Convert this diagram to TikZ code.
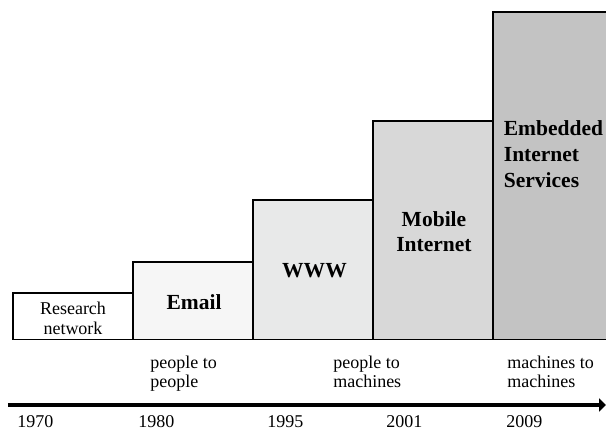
\documentclass[tikz,border=0pt]{standalone}
\usepackage{fontspec}
\setmainfont{Liberation Serif}
\usepackage{tikz}
\usetikzlibrary{arrows.meta,calc,positioning}
\definecolor{emailgray}{HTML}{F6F6F6}
\definecolor{wwwgray}{HTML}{E8E9E9}
\definecolor{mobilegray}{HTML}{D8D8D8}
\definecolor{embedgray}{HTML}{C3C3C3}
\tikzset{
  stagebox/.style={draw=black,line width=0.8pt},
  stagename/.style={anchor=base,align=center,font=\fontsize{15.3}{17.8}\selectfont\bfseries},
  eralabel/.style={anchor=base west,align=left,inner sep=0pt,font=\fontsize{12.8}{14.2}\selectfont},
  yearlabel/.style={anchor=base west,inner sep=0pt,font=\fontsize{12.8}{14.2}\selectfont},
}

\begin{document}
\begin{tikzpicture}
\useasboundingbox (0,0) rectangle (15.15,10.825);
\filldraw[stagebox,fill=white] (0.325,2.34) coordinate(A) rectangle ++(3.0,1.16);
\filldraw[stagebox,fill=emailgray] (3.325,2.34) coordinate(B) rectangle ++(3.0,1.935);
\filldraw[stagebox,fill=wwwgray] (6.325,2.34) coordinate(C) rectangle ++(3.0,3.485);
\filldraw[stagebox,fill=mobilegray] (9.325,2.34) coordinate(D) rectangle ++(3.0,5.46);
\filldraw[stagebox,fill=embedgray] (12.325,2.34) coordinate(E) rectangle ++(3.3,8.185);
\node[stagename,font=\fontsize{12.8}{14.6}\selectfont] (research) at (1.825,2.45) {Research\\network};
\node[stagename] (email) at (4.85,3.075) {Email};
\node[stagename] (www) at (7.8625,3.875) {WWW};
\node[stagename] (mobile) at (10.85,4.525) {Mobile\\Internet};
\node[stagename,anchor=base west,align=left,inner sep=0pt,font=\fontsize{15.3}{18.8}\selectfont\bfseries] (embedded) at (12.59,6.125) {Embedded\\Internet\\Services};
\node[eralabel] (p2p) at (3.75,1.125) {people to\\people};
\node[eralabel] (p2m) at (8.325,1.125) {people to\\machines};
\node[eralabel] (m2m) at (12.675,1.125) {machines to\\machines};
\draw[line width=2.2pt,-{Triangle[length=0.17cm,width=0.32cm]}] (0.2,0.7) coordinate(start) -- (15.15,0.7) coordinate(end);
\node[yearlabel] (y1970) at (0.425,0.125) {1970};
\node[yearlabel] (y1980) at (3.45,0.125) {1980};
\node[yearlabel] (y1995) at (6.675,0.125) {1995};
\node[yearlabel] (y2001) at (9.65,0.125) {2001};
\node[yearlabel] (y2009) at (12.65,0.125) {2009};
\end{tikzpicture}
\end{document}
